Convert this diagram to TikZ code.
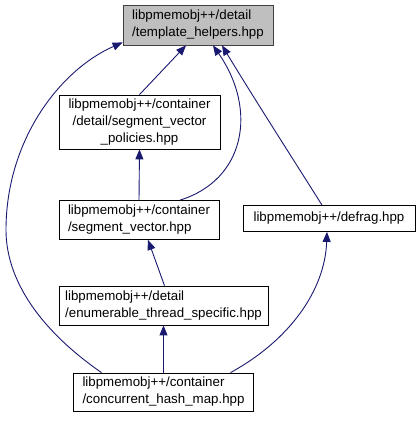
\documentclass[tikz,border=0pt]{standalone}
\usepackage{fontspec}
\setmainfont{Liberation Sans}
\usepackage{xcolor}
\usetikzlibrary{arrows.meta}
\definecolor{edgeblue}{RGB}{25,25,112}
\definecolor{hdrgray}{RGB}{191,191,191}
\definecolor{hdrline}{RGB}{64,64,64}

\begin{document}
\begin{tikzpicture}[x=1pt,y=-1pt,
  file/.style={draw=black,line width=0.8pt,inner sep=0pt,align=left,
    font=\fontsize{13.3}{17}\selectfont},
  edge/.style={edgeblue,line width=0.9pt,-{Triangle[length=10pt,width=8pt]}}]
\useasboundingbox (0,0) rectangle (419,424);
% files
\node[file,fill=hdrgray,draw=hdrline,minimum width=150,minimum height=40] (helpers) at (198,25)
  {libpmemobj++/detail\\/template\_helpers.hpp};
\node[file,align=center,minimum width=161,minimum height=54] (policies) at (139.5,122)
  {libpmemobj++/container\\/detail/segment\_vector\\\_policies.hpp};
\node[file,minimum width=160,minimum height=39] (segvec) at (139,220)
  {libpmemobj++/container\\/segment\_vector.hpp};
\node[file,minimum width=172,minimum height=26] (defrag) at (329,218.5)
  {libpmemobj++/defrag.hpp};
\node[file,minimum width=209,minimum height=39] (enumts) at (163.5,305.5)
  {libpmemobj++/detail\\/enumerable\_thread\_specific.hpp};
\node[file,minimum width=180,minimum height=38] (chmap) at (163.5,392)
  {libpmemobj++/container\\/concurrent\_hash\_map.hpp};
% includes
\draw[edge] ([xshift=-62pt]chmap.north) .. controls (40,330) and (6,280) .. (6,230)
  .. controls (6,140) and (60,70) .. ([yshift=3pt]helpers.south west);
\draw[edge] (policies.north) -- ([xshift=-12pt]helpers.south);
\draw[edge] ([xshift=41pt]segvec.north) .. controls (245,180) and (258,110) .. ([xshift=15pt]helpers.south);
\draw[edge] ([xshift=-7pt]defrag.north) .. controls (300,170) and (255,100) .. ([xshift=24pt]helpers.south);
\draw[edge] (segvec.north) -- (policies.south);
\draw[edge] ([xshift=1pt]enumts.north) -- ([xshift=9pt]segvec.south);
\draw[edge] (chmap.north) -- (enumts.south);
\draw[edge] ([xshift=67pt]chmap.north) .. controls (290,340) and (325,290) .. ([xshift=-2pt]defrag.south);
\end{tikzpicture}
\end{document}
